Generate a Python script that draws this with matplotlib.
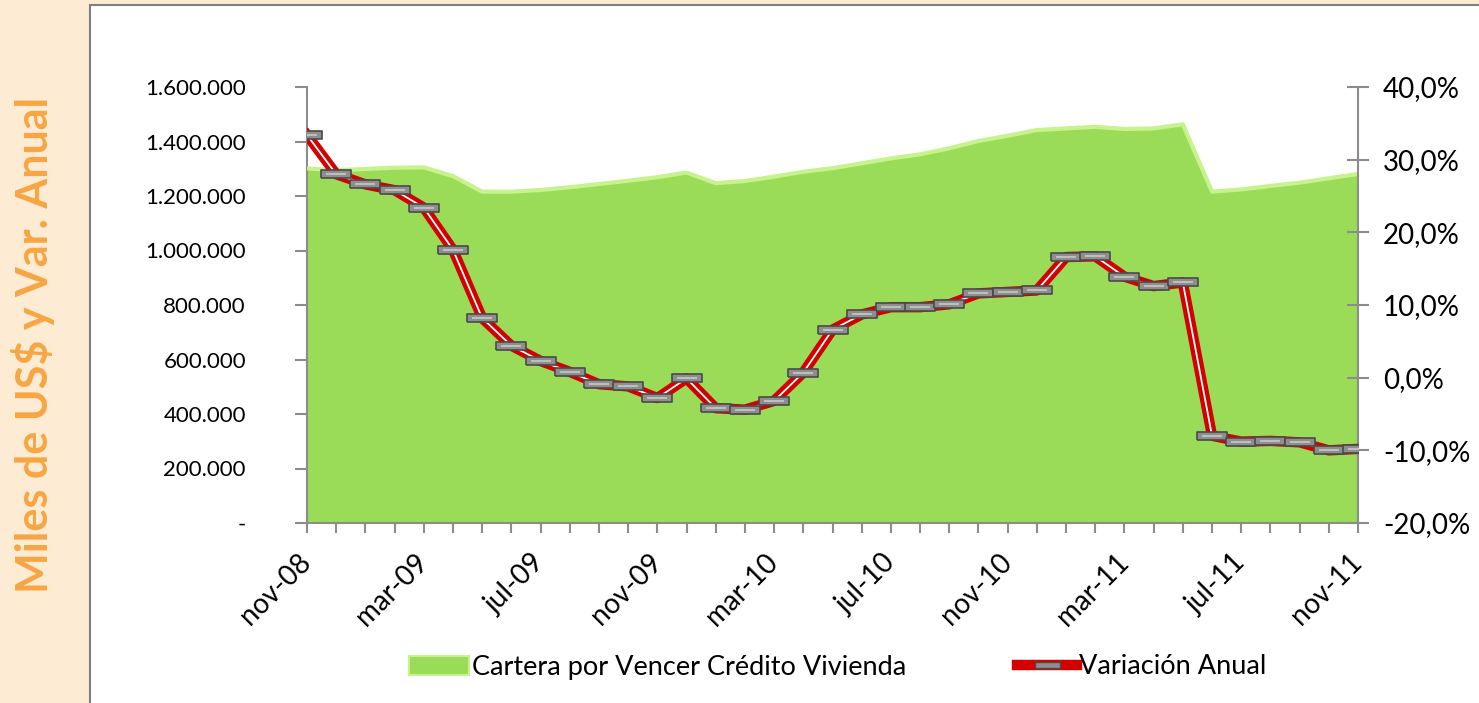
import numpy as np
import matplotlib.pyplot as plt
from matplotlib.patches import Rectangle, Patch
from matplotlib.lines import Line2D
from matplotlib.ticker import FuncFormatter, FixedLocator

plt.rcParams['font.family'] = ['Lato', 'DejaVu Sans']

# Months nov-08 .. nov-11
months = ['nov-08', 'dic-08', 'ene-09', 'feb-09', 'mar-09', 'abr-09', 'may-09', 'jun-09',
          'jul-09', 'ago-09', 'sep-09', 'oct-09', 'nov-09', 'dic-09', 'ene-10', 'feb-10',
          'mar-10', 'abr-10', 'may-10', 'jun-10', 'jul-10', 'ago-10', 'sep-10', 'oct-10',
          'nov-10', 'dic-10', 'ene-11', 'feb-11', 'mar-11', 'abr-11', 'may-11', 'jun-11',
          'jul-11', 'ago-11', 'sep-11', 'oct-11', 'nov-11']

# Cartera por vencer (miles de US$)
cartera = [1301000, 1295000, 1299000, 1304000, 1305000, 1273000, 1216000, 1216000,
           1222000, 1232000, 1244000, 1256000, 1269000, 1286000, 1247000, 1255000,
           1271000, 1289000, 1302000, 1320000, 1338000, 1353000, 1375000, 1402000,
           1421000, 1442000, 1448000, 1454000, 1446000, 1448000, 1463000, 1216000,
           1224000, 1237000, 1249000, 1265000, 1281000]

# Variacion anual (%)
variacion = [33.4, 28.0, 26.6, 25.8, 23.4, 17.6, 8.2, 4.4, 2.3, 0.8, -0.9, -1.2,
             -2.8, -0.1, -4.2, -4.4, -3.2, 0.7, 6.6, 8.7, 9.7, 9.7, 10.1, 11.6,
             11.8, 12.0, 16.6, 16.7, 13.9, 12.6, 13.1, -8.0, -8.8, -8.7, -8.9, -10.0, -9.8]

left_ticks = [0, 200000, 400000, 600000, 800000, 1000000, 1200000, 1400000, 1600000]
right_ticks = [-20, -10, 0, 10, 20, 30, 40]

green = '#9ADC58'
green_light = '#C8F28E'
red = '#D40000'
grey = '#8C8C8C'

x = np.arange(len(months))

fig = plt.figure(figsize=(14.79, 7.03), dpi=100, facecolor='#FDEBD3')
fig.patches.append(Rectangle((90 / 1479, -0.02), 1.0, 1 - 5 / 703 + 0.02,
                             transform=fig.transFigure, facecolor='white',
                             edgecolor='#7F7F7F', lw=1.5, zorder=-10))

ax = fig.add_axes([307 / 1479, 1 - 523 / 703, (1358 - 307) / 1479, (523 - 87) / 703])
ax.patch.set_visible(False)
ax2 = ax.twinx()

# area
ax.fill_between(x, cartera, 0, color=green, lw=0, zorder=2)
ax.plot(x, cartera, color=green_light, lw=3, zorder=3, solid_joinstyle='round')
ax.set_ylim(0, 1600000)
ax.set_xlim(0, len(months) - 1)

# line
rect = [(-1.85, -0.5), (1.85, -0.5), (1.85, 0.5), (-1.85, 0.5), (-1.85, -0.5)]
ax2.plot(x, variacion, color=red, lw=7.5, zorder=3, solid_joinstyle='round')
ax2.plot(x, variacion, color='white', lw=1.3, zorder=4)
ax2.plot(x, variacion, ls='none', marker=rect, markersize=22, markerfacecolor='#8E8E8E',
         markeredgecolor='#4A4A4A', markeredgewidth=1.2, zorder=5)
ax2.plot(x, variacion, ls='none', marker='_', markersize=14, markeredgecolor='#C8C8C8',
         markeredgewidth=1.2, zorder=6)
ax2.set_ylim(-20, 40)

# spines / ticks
for s in ['top', 'right']:
    ax.spines[s].set_visible(False)
for s in ['top', 'left', 'bottom']:
    ax2.spines[s].set_visible(False)
ax.spines['left'].set_color(grey)
ax.spines['bottom'].set_color(grey)
ax2.spines['right'].set_color(grey)
for sp in [ax.spines['left'], ax.spines['bottom'], ax2.spines['right']]:
    sp.set_linewidth(1.5)

ax.yaxis.set_major_locator(FixedLocator(left_ticks))
ax.yaxis.set_major_formatter(FuncFormatter(
    lambda v, p: '-' if v == 0 else f'{v:,.0f}'.replace(',', '.')))
ax2.yaxis.set_major_locator(FixedLocator(right_ticks))
ax2.yaxis.set_major_formatter(FuncFormatter(
    lambda v, p: f'{v:.1f}%'.replace('.', ',')))

ax.set_xticks(x)
ax.set_xticklabels([m if i % 4 == 0 else '' for i, m in enumerate(months)],
                   rotation=45, ha='right', va='center', rotation_mode='anchor')
ax.tick_params(axis='x', length=7, width=1.5, color=grey, labelsize=20, pad=18)
ax.tick_params(axis='y', length=9, width=1.5, color=grey, labelsize=16, pad=35)
ax2.tick_params(axis='y', direction='inout', length=16, width=1.5, color=grey,
                labelsize=20, pad=10)

# y title
fig.text(0.022, 0.51, 'Miles de US$ y Var. Anual', rotation=90, color='#F7A642',
         fontsize=31, fontweight='bold', ha='center', va='center')

# legend
handles = [Patch(facecolor=green, edgecolor=green_light, lw=1.5),
           Line2D([0], [0], color=red, lw=7.5,
                  marker=rect, markersize=18, markerfacecolor='#8E8E8E',
                  markeredgecolor='#4A4A4A')]
fig.legend(handles, ['Cartera por Vencer Crédito Vivienda', 'Variación Anual'],
           loc='center', bbox_to_anchor=(838 / 1479, 1 - 667 / 703), ncol=2,
           frameon=False, fontsize=19.5, handlelength=2.2, handletextpad=0.1,
           columnspacing=4.1)

fig.savefig('out.png', dpi=100, facecolor=fig.get_facecolor())
